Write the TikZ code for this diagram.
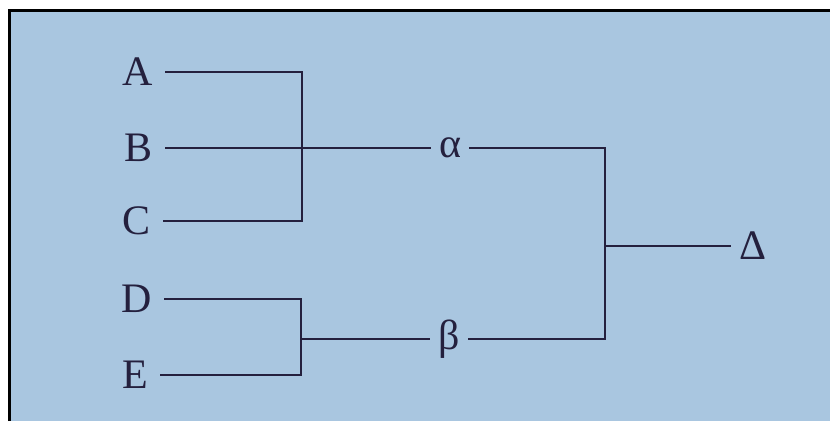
\documentclass[tikz,border=0pt]{standalone}
\usepackage{xcolor}
\definecolor{Paper}{RGB}{169,198,224}
\definecolor{Ink}{RGB}{36,32,62}
\definecolor{Black}{RGB}{0,0,0}
\definecolor{White}{RGB}{255,255,255}
\usepackage{fontspec}
\setmainfont{Liberation Serif}
\usepackage{tikz}

\begin{document}
\begin{tikzpicture}[x=1pt, y=-1pt,
		leaf/.style={inner xsep=12pt, inner ysep=0pt, color=Ink, font=\fontsize{42}{50}\selectfont},
		greek/.style={leaf, inner xsep=8pt},
		wire/.style={draw=Ink, line width=2.2pt}]
		
		% Background
		\useasboundingbox (0,0) rectangle (830,421);
		\fill[White] (0,0) rectangle (830,421);
		\fill[Paper] (9,10) rectangle (830,421);
		\draw[Black, line width=3pt] (9,421) -- (9,10) -- (830,10);
		
		% Text
		\node[leaf] (A) 			at (138, 72) {A};
		\node[leaf] (B) 			at (139, 148) {B};
		\node[leaf] (C) 			at (137, 221) {C};
		\node[leaf] (D) 			at (137, 299) {D};
		\node[leaf] (E) 			at (135, 375) {E};
		
		\node[greek] (alpha) 		at (450, 148) {α};
		\node[greek] (beta) 		at (449, 339) {β};
		\node[greek] (Delta) 		at (753, 246) {Δ};
		
		% Joins
		\coordinate (abc) at (302, 148);
		\coordinate (de) at (301, 339);
		\coordinate (ab) at (605, 246);
		
		% Lines
		\draw[wire] (A.east) -| (abc) |- (C.east);
		\draw[wire] (B.east) -- (alpha.west);
		\draw[wire] (D.east) -| (de) |- (E.east);
		\draw[wire] (de) -- (beta.west);
		\draw[wire] (alpha.east) -| (ab) |- (beta.east);
		\draw[wire] (ab) -- (Delta.west);
		
	\end{tikzpicture}
\end{document}
